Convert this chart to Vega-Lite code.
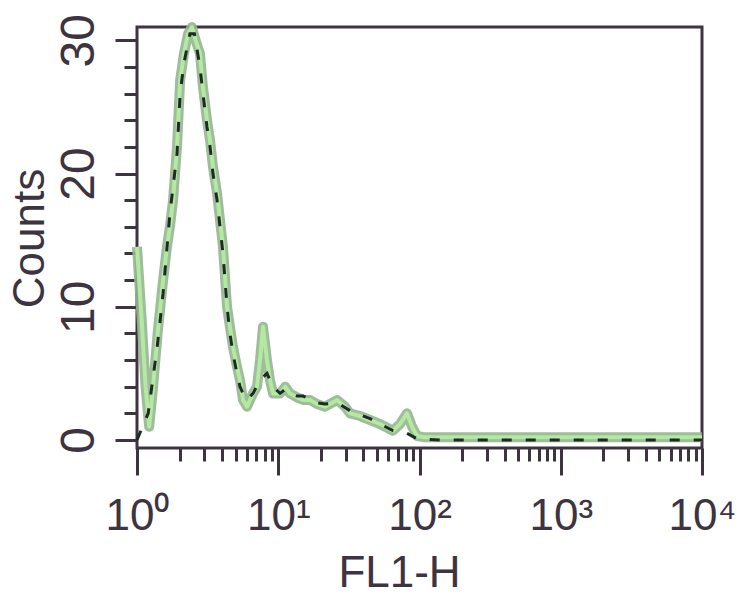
{
  "$schema": "https://vega.github.io/schema/vega-lite/v6.json",
  "description": "Flow cytometry histogram of FL1-H: control (dashed) and stained sample (green).",
  "autosize": {"type": "none"},
  "width": 565,
  "height": 421,
  "padding": {"left": 137, "top": 27, "right": 41, "bottom": 152},
  "background": "white",
  "config": {
    "view": {"stroke": "#3d3440", "strokeWidth": 3},
    "axis": {"domain": false, "grid": false, "tickColor": "#3d3440", "tickWidth": 3, "labelColor": "#3d3440", "titleColor": "#3d3440", "titleFontWeight": "normal"}
  },
  "data": {
    "values": [
      {"fl1h": 1.0, "counts": 14.5, "sample": "stained"},
      {"fl1h": 1.08, "counts": 9, "sample": "stained"},
      {"fl1h": 1.15, "counts": 4, "sample": "stained"},
      {"fl1h": 1.22, "counts": 1, "sample": "stained"},
      {"fl1h": 1.3, "counts": 4, "sample": "stained"},
      {"fl1h": 1.4, "counts": 8, "sample": "stained"},
      {"fl1h": 1.53, "counts": 12, "sample": "stained"},
      {"fl1h": 1.63, "counts": 14.5, "sample": "stained"},
      {"fl1h": 1.71, "counts": 16, "sample": "stained"},
      {"fl1h": 1.8, "counts": 18, "sample": "stained"},
      {"fl1h": 1.92, "counts": 22, "sample": "stained"},
      {"fl1h": 2.02, "counts": 27, "sample": "stained"},
      {"fl1h": 2.15, "counts": 29, "sample": "stained"},
      {"fl1h": 2.3, "counts": 30.5, "sample": "stained"},
      {"fl1h": 2.45, "counts": 31, "sample": "stained"},
      {"fl1h": 2.6, "counts": 30, "sample": "stained"},
      {"fl1h": 2.79, "counts": 29, "sample": "stained"},
      {"fl1h": 2.93, "counts": 26.5, "sample": "stained"},
      {"fl1h": 3.13, "counts": 24, "sample": "stained"},
      {"fl1h": 3.29, "counts": 22.5, "sample": "stained"},
      {"fl1h": 3.45, "counts": 20.5, "sample": "stained"},
      {"fl1h": 3.69, "counts": 18.5, "sample": "stained"},
      {"fl1h": 3.87, "counts": 16.5, "sample": "stained"},
      {"fl1h": 4.06, "counts": 14.5, "sample": "stained"},
      {"fl1h": 4.34, "counts": 10, "sample": "stained"},
      {"fl1h": 4.55, "counts": 8.5, "sample": "stained"},
      {"fl1h": 4.78, "counts": 7, "sample": "stained"},
      {"fl1h": 5.1, "counts": 5.5, "sample": "stained"},
      {"fl1h": 5.36, "counts": 4.5, "sample": "stained"},
      {"fl1h": 5.63, "counts": 3, "sample": "stained"},
      {"fl1h": 6.01, "counts": 2.5, "sample": "stained"},
      {"fl1h": 6.31, "counts": 3, "sample": "stained"},
      {"fl1h": 6.63, "counts": 3.5, "sample": "stained"},
      {"fl1h": 7.07, "counts": 4, "sample": "stained"},
      {"fl1h": 7.43, "counts": 6, "sample": "stained"},
      {"fl1h": 7.8, "counts": 8.5, "sample": "stained"},
      {"fl1h": 8.32, "counts": 6, "sample": "stained"},
      {"fl1h": 8.74, "counts": 4.5, "sample": "stained"},
      {"fl1h": 9.18, "counts": 3.5, "sample": "stained"},
      {"fl1h": 10.3, "counts": 3.5, "sample": "stained"},
      {"fl1h": 11.2, "counts": 4, "sample": "stained"},
      {"fl1h": 12.1, "counts": 3.5, "sample": "stained"},
      {"fl1h": 13.6, "counts": 3.2, "sample": "stained"},
      {"fl1h": 15, "counts": 3, "sample": "stained"},
      {"fl1h": 16.8, "counts": 3, "sample": "stained"},
      {"fl1h": 18.8, "counts": 2.7, "sample": "stained"},
      {"fl1h": 21.4, "counts": 2.5, "sample": "stained"},
      {"fl1h": 26.1, "counts": 3, "sample": "stained"},
      {"fl1h": 29.7, "counts": 2.5, "sample": "stained"},
      {"fl1h": 32.2, "counts": 2, "sample": "stained"},
      {"fl1h": 37.9, "counts": 1.8, "sample": "stained"},
      {"fl1h": 44.7, "counts": 1.5, "sample": "stained"},
      {"fl1h": 52.5, "counts": 1.2, "sample": "stained"},
      {"fl1h": 64.9, "counts": 0.7, "sample": "stained"},
      {"fl1h": 72.8, "counts": 1.2, "sample": "stained"},
      {"fl1h": 81.6, "counts": 2, "sample": "stained"},
      {"fl1h": 88.6, "counts": 1, "sample": "stained"},
      {"fl1h": 96, "counts": 0.3, "sample": "stained"},
      {"fl1h": 109, "counts": 0.2, "sample": "stained"},
      {"fl1h": 140, "counts": 0.2, "sample": "stained"},
      {"fl1h": 300, "counts": 0.2, "sample": "stained"},
      {"fl1h": 1000, "counts": 0.2, "sample": "stained"},
      {"fl1h": 3000, "counts": 0.2, "sample": "stained"},
      {"fl1h": 10000, "counts": 0.2, "sample": "stained"},
      {"fl1h": 1.0, "counts": 0, "sample": "control"},
      {"fl1h": 1.2, "counts": 2, "sample": "control"},
      {"fl1h": 1.39, "counts": 7, "sample": "control"},
      {"fl1h": 1.53, "counts": 11, "sample": "control"},
      {"fl1h": 1.71, "counts": 17, "sample": "control"},
      {"fl1h": 1.92, "counts": 21.5, "sample": "control"},
      {"fl1h": 2.02, "counts": 26, "sample": "control"},
      {"fl1h": 2.15, "counts": 28.3, "sample": "control"},
      {"fl1h": 2.37, "counts": 30.5, "sample": "control"},
      {"fl1h": 2.55, "counts": 30.5, "sample": "control"},
      {"fl1h": 2.79, "counts": 28, "sample": "control"},
      {"fl1h": 2.93, "counts": 26, "sample": "control"},
      {"fl1h": 3.13, "counts": 23.5, "sample": "control"},
      {"fl1h": 3.29, "counts": 22, "sample": "control"},
      {"fl1h": 3.45, "counts": 20, "sample": "control"},
      {"fl1h": 3.69, "counts": 18, "sample": "control"},
      {"fl1h": 3.87, "counts": 16, "sample": "control"},
      {"fl1h": 4.06, "counts": 14, "sample": "control"},
      {"fl1h": 4.34, "counts": 10, "sample": "control"},
      {"fl1h": 4.55, "counts": 8, "sample": "control"},
      {"fl1h": 4.78, "counts": 6.5, "sample": "control"},
      {"fl1h": 5.1, "counts": 5, "sample": "control"},
      {"fl1h": 5.36, "counts": 4, "sample": "control"},
      {"fl1h": 5.63, "counts": 3.5, "sample": "control"},
      {"fl1h": 6.01, "counts": 3, "sample": "control"},
      {"fl1h": 6.63, "counts": 3.5, "sample": "control"},
      {"fl1h": 7.43, "counts": 4.5, "sample": "control"},
      {"fl1h": 8.32, "counts": 5, "sample": "control"},
      {"fl1h": 8.74, "counts": 4.5, "sample": "control"},
      {"fl1h": 9.18, "counts": 4, "sample": "control"},
      {"fl1h": 10.3, "counts": 3.5, "sample": "control"},
      {"fl1h": 11.2, "counts": 3.8, "sample": "control"},
      {"fl1h": 12.1, "counts": 3.5, "sample": "control"},
      {"fl1h": 13.6, "counts": 3.3, "sample": "control"},
      {"fl1h": 15, "counts": 3.3, "sample": "control"},
      {"fl1h": 18.8, "counts": 2.8, "sample": "control"},
      {"fl1h": 21.4, "counts": 2.7, "sample": "control"},
      {"fl1h": 26.1, "counts": 2.8, "sample": "control"},
      {"fl1h": 32.2, "counts": 2.2, "sample": "control"},
      {"fl1h": 44.7, "counts": 1.6, "sample": "control"},
      {"fl1h": 52.5, "counts": 1.2, "sample": "control"},
      {"fl1h": 64.9, "counts": 0.7, "sample": "control"},
      {"fl1h": 81.6, "counts": 0.5, "sample": "control"},
      {"fl1h": 96, "counts": 0.1, "sample": "control"},
      {"fl1h": 140, "counts": 0, "sample": "control"},
      {"fl1h": 10000, "counts": 0, "sample": "control"}
    ]
  },
  "encoding": {
    "x": {
      "field": "fl1h",
      "type": "quantitative",
      "scale": {"type": "log", "domain": [1, 10000]},
      "axis": {
        "title": "FL1-H",
        "titleFont": "Liberation Sans",
        "titleFontSize": 44,
        "titleX": 262,
        "titleY": 138,
        "titleBaseline": "alphabetic",
        "titleAlign": "center",
        "values": [1, 2, 3, 4, 5, 6, 7, 8, 9, 10, 20, 30, 40, 50, 60, 70, 80, 90, 100, 200, 300, 400, 500, 600, 700, 800, 900, 1000, 2000, 3000, 4000, 5000, 6000, 7000, 8000, 9000, 10000],
        "labelExpr": "datum.value == 1 ? '10⁰' : datum.value == 10 ? '10¹' : datum.value == 100 ? '10²' : datum.value == 1000 ? '10³' : datum.value == 10000 ? '10⁴' : ''",
        "labelFont": "Liberation Sans",
        "labelFontSize": 44,
        "labelBaseline": "alphabetic",
        "labelPadding": 54,
        "labelFlush": false,
        "labelOverlap": false,
        "tickSize": {"condition": {"test": "datum.value == 1 || datum.value == 10 || datum.value == 100 || datum.value == 1000 || datum.value == 10000", "value": 27}, "value": 13}
      }
    },
    "y": {
      "field": "counts",
      "type": "quantitative",
      "scale": {"domain": [-0.6, 31], "nice": false, "zero": false},
      "axis": {
        "title": "Counts",
        "titleFont": "Liberation Sans",
        "titleFontSize": 44,
        "titleAngle": -90,
        "titleX": -94,
        "titleY": 211,
        "titleBaseline": "alphabetic",
        "titleAlign": "center",
        "values": [0, 2, 4, 6, 8, 10, 12, 14, 16, 18, 20, 22, 24, 26, 28, 30],
        "labelExpr": "datum.value % 10 === 0 ? datum.label : ''",
        "labelFont": "Liberation Sans",
        "labelFontSize": 48,
        "labelAngle": -90,
        "labelAlign": "center",
        "labelBaseline": "alphabetic",
        "labelPadding": 22,
        "labelOverlap": false,
        "tickSize": {"condition": {"test": "datum.value % 10 === 0", "value": 22}, "value": 13}
      }
    }
  },
  "layer": [
    {
      "transform": [{"filter": "datum.sample === 'stained'"}],
      "mark": {"type": "line", "color": "#93b690", "strokeWidth": 10, "opacity": 0.9, "strokeJoin": "round"}
    },
    {
      "transform": [{"filter": "datum.sample === 'stained'"}],
      "mark": {"type": "line", "color": "#b5e8a0", "strokeWidth": 4, "strokeJoin": "round"}
    },
    {
      "transform": [{"filter": "datum.sample === 'control'"}],
      "mark": {"type": "line", "color": "#1e2b24", "strokeWidth": 3, "strokeDash": [10, 14]}
    }
  ]
}
